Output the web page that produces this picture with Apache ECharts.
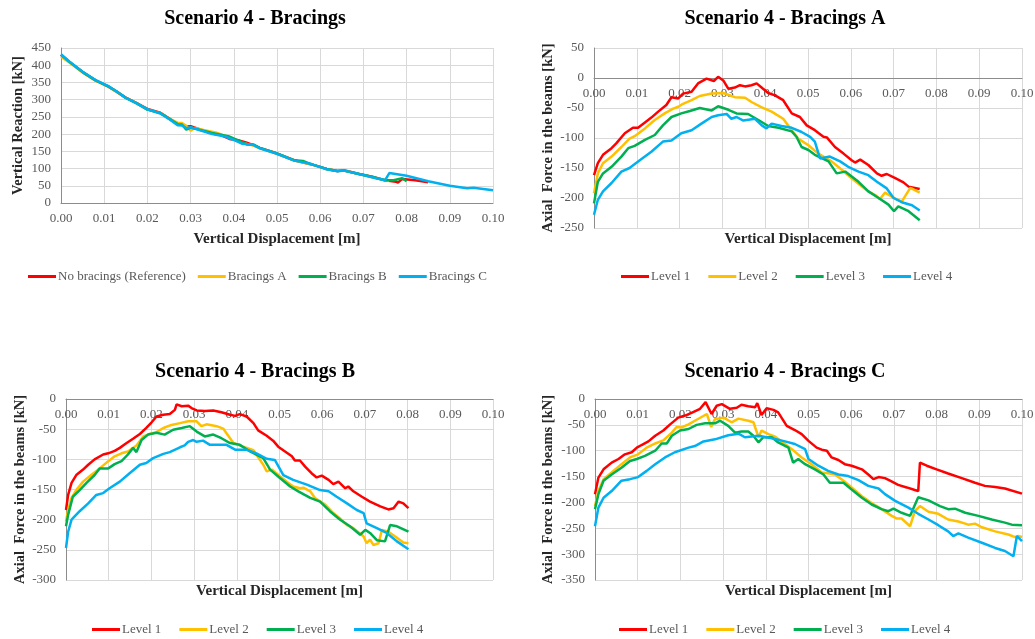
<!DOCTYPE html>
<html>
<head>
<meta charset="utf-8">
<script src="https://cdn.jsdelivr.net/npm/echarts@6/dist/echarts.min.js"></script>
<style>
  html, body { margin: 0; padding: 0; background: #fff; overflow: hidden; }
  #chart { width: 1035px; height: 639px; }
</style>
</head>
<body>
<div id="chart"></div>
<script>
// ---- data: [vertical displacement (m), force (kN)] ----
const xTicks = [0, 0.1, 0.01];

// Scenario 4 - Bracings (vertical reaction)
const noBracings = [[0,430],[0.002,409],[0.005,380],[0.008,356],[0.011,338],[0.013,322],[0.015,306],[0.0175,290],[0.02,273],[0.023,262],[0.025,246],[0.027,230],[0.028,228],[0.029,222],[0.030,223],[0.032,214],[0.035,202],[0.037,197],[0.039,186],[0.041,182],[0.043,175],[0.0445,168],[0.046,160],[0.049,148],[0.054,124],[0.058,112],[0.0615,99],[0.064,93],[0.0655,95],[0.069,84],[0.072,76],[0.075,66],[0.0775,62],[0.078,59],[0.079,70],[0.082,66],[0.085,60]];
const bracingsA = [[0,425],[0.002,407],[0.005,379],[0.008,355],[0.011,338],[0.013,322],[0.015,305],[0.0175,289],[0.02,271],[0.023,261],[0.025,245],[0.027,233],[0.028,232],[0.029,224],[0.030,210],[0.031,218],[0.033,212],[0.036,204],[0.038,195],[0.040,184],[0.042,174],[0.0445,167],[0.046,159],[0.050,143],[0.054,123],[0.058,112],[0.0615,98],[0.064,93],[0.0655,94],[0.069,84],[0.072,75],[0.076,64]];
const bracingsB = [[0,430],[0.002,409],[0.005,380],[0.008,356],[0.011,338],[0.013,323],[0.015,305],[0.0175,290],[0.02,271],[0.023,261],[0.025,245],[0.027,229],[0.028,228],[0.029,213],[0.030,219],[0.032,213],[0.035,203],[0.037,198],[0.039,193],[0.041,182],[0.043,170],[0.0445,170],[0.046,160],[0.050,144],[0.054,124],[0.056,122],[0.058,112],[0.0615,99],[0.064,93],[0.0655,94],[0.069,84],[0.072,76],[0.075,66],[0.077,66],[0.079,72],[0.080,63]];
const bracingsC = [[0,432],[0.002,410],[0.005,381],[0.008,357],[0.011,339],[0.013,323],[0.015,305],[0.0175,289],[0.02,272],[0.023,260],[0.025,244],[0.027,226],[0.028,225],[0.029,217],[0.030,220],[0.032,212],[0.035,200],[0.038,193],[0.040,183],[0.042,172],[0.0445,169],[0.046,159],[0.050,143],[0.054,123],[0.058,113],[0.0615,98],[0.064,92],[0.0655,94],[0.069,84],[0.072,75],[0.075,66],[0.076,87],[0.080,79],[0.085,63],[0.090,50],[0.094,43],[0.0955,44],[0.1,37]];

// Scenario 4 - Bracings A (axial force)
const aLevel1 = [[0,-162],[0.0009,-142],[0.0021,-128],[0.0041,-117],[0.0052,-109],[0.0072,-92],[0.0091,-83],[0.0103,-83],[0.0119,-74],[0.0134,-66],[0.015,-56],[0.0169,-45],[0.0181,-32],[0.0197,-34],[0.0208,-26],[0.0228,-23],[0.0243,-9],[0.0263,-1],[0.028,-5],[0.029,2],[0.0302,-4],[0.0314,-18],[0.0329,-16],[0.0341,-12],[0.0353,-14],[0.0368,-12],[0.038,-9],[0.0395,-18],[0.0407,-25],[0.0423,-29],[0.0442,-37],[0.0462,-59],[0.0481,-65],[0.0497,-79],[0.0516,-87],[0.0536,-98],[0.0544,-99],[0.0563,-115],[0.0583,-126],[0.0602,-137],[0.061,-141],[0.0622,-136],[0.0641,-145],[0.0661,-159],[0.0672,-163],[0.0684,-160],[0.0704,-167],[0.0723,-174],[0.0735,-181],[0.0761,-185]];
const aLevel2 = [[0,-192],[0.0009,-159],[0.0021,-142],[0.0041,-131],[0.0064,-115],[0.0083,-101],[0.0095,-97],[0.0119,-84],[0.0142,-70],[0.0165,-59],[0.0185,-51],[0.0197,-48],[0.0208,-43],[0.0228,-37],[0.0247,-30],[0.0275,-26],[0.0302,-25],[0.0329,-32],[0.0353,-33],[0.0368,-40],[0.0392,-49],[0.0415,-56],[0.0442,-68],[0.0462,-87],[0.0477,-101],[0.0501,-112],[0.0524,-126],[0.0555,-139],[0.0579,-153],[0.0602,-167],[0.0626,-181],[0.0641,-189],[0.0657,-195],[0.0668,-202],[0.068,-191],[0.0696,-198],[0.0719,-206],[0.0739,-183],[0.0761,-191]];
const aLevel3 = [[0,-209],[0.0009,-173],[0.0021,-159],[0.0041,-148],[0.0064,-131],[0.008,-117],[0.0095,-113],[0.0119,-103],[0.0142,-95],[0.0161,-79],[0.0181,-65],[0.0204,-59],[0.0224,-55],[0.0247,-50],[0.0275,-54],[0.029,-47],[0.0314,-53],[0.0333,-59],[0.036,-60],[0.0384,-70],[0.0407,-80],[0.0431,-83],[0.0462,-89],[0.0473,-98],[0.0485,-115],[0.0501,-120],[0.0516,-128],[0.0548,-139],[0.0567,-159],[0.0587,-156],[0.0618,-173],[0.0641,-189],[0.0665,-200],[0.0688,-211],[0.0701,-222],[0.0711,-214],[0.0735,-222],[0.0761,-237]];
const aLevel4 = [[0,-228],[0.0009,-203],[0.0021,-189],[0.0041,-175],[0.0064,-156],[0.0083,-150],[0.0107,-137],[0.0134,-123],[0.0161,-106],[0.0181,-104],[0.0204,-92],[0.0228,-87],[0.0251,-76],[0.0275,-65],[0.029,-62],[0.031,-60],[0.0321,-68],[0.0333,-65],[0.0349,-71],[0.0376,-68],[0.0392,-79],[0.0403,-84],[0.0415,-76],[0.0438,-80],[0.0462,-83],[0.0485,-90],[0.0505,-98],[0.0516,-106],[0.0528,-134],[0.0551,-131],[0.0575,-139],[0.0594,-148],[0.0618,-156],[0.0641,-162],[0.0661,-173],[0.0684,-184],[0.07,-200],[0.0719,-207],[0.0743,-212],[0.0761,-221]];

// Scenario 4 - Bracings B
const bLevel1 = [[0,-184],[0.0005,-159],[0.0013,-139],[0.0024,-126],[0.004,-117],[0.0052,-109],[0.0067,-100],[0.0087,-92],[0.0099,-90],[0.0114,-86],[0.0126,-81],[0.0142,-73],[0.0157,-66],[0.0173,-58],[0.0188,-48],[0.02,-39],[0.0212,-29],[0.0228,-26],[0.0243,-25],[0.0255,-18],[0.0259,-9],[0.0271,-12],[0.0286,-11],[0.0294,-15],[0.0306,-19],[0.0325,-20],[0.0345,-19],[0.0364,-22],[0.0384,-26],[0.0396,-28],[0.0407,-25],[0.0423,-29],[0.0439,-40],[0.045,-52],[0.047,-61],[0.0485,-69],[0.0497,-79],[0.0513,-87],[0.0529,-95],[0.0536,-102],[0.0548,-102],[0.056,-112],[0.0575,-123],[0.0587,-130],[0.0599,-127],[0.0615,-134],[0.0626,-141],[0.0638,-137],[0.0654,-148],[0.0661,-145],[0.0673,-153],[0.0693,-162],[0.0712,-170],[0.0736,-178],[0.0755,-183],[0.0767,-181],[0.0779,-170],[0.079,-173],[0.0802,-181]];
const bLevel2 = [[0,-203],[0.0005,-184],[0.0013,-164],[0.0024,-151],[0.004,-137],[0.0059,-126],[0.0079,-115],[0.0099,-103],[0.0114,-95],[0.013,-90],[0.0145,-87],[0.0165,-77],[0.0181,-62],[0.0196,-58],[0.0212,-55],[0.0228,-48],[0.0247,-43],[0.0267,-40],[0.0286,-37],[0.0306,-37],[0.0317,-45],[0.0329,-42],[0.0353,-45],[0.0368,-49],[0.0392,-73],[0.0415,-79],[0.0439,-85],[0.0462,-109],[0.047,-120],[0.0482,-117],[0.0501,-128],[0.0517,-137],[0.0532,-145],[0.0548,-148],[0.0556,-147],[0.0572,-153],[0.0583,-164],[0.0607,-175],[0.0626,-189],[0.0642,-198],[0.0658,-209],[0.0673,-214],[0.0697,-228],[0.0704,-239],[0.0712,-233],[0.072,-242],[0.0732,-239],[0.074,-217],[0.0755,-220],[0.0775,-230],[0.079,-238],[0.0802,-239]];
const bLevel3 = [[0,-211],[0.0005,-192],[0.0016,-162],[0.0032,-151],[0.0048,-139],[0.0067,-126],[0.0079,-115],[0.0099,-115],[0.0114,-108],[0.013,-103],[0.0145,-92],[0.0157,-81],[0.0165,-88],[0.0177,-68],[0.0192,-59],[0.0212,-56],[0.0231,-59],[0.0251,-51],[0.0271,-48],[0.029,-45],[0.0306,-54],[0.0325,-62],[0.0345,-59],[0.0364,-65],[0.0384,-73],[0.0407,-76],[0.0431,-87],[0.0462,-98],[0.0478,-117],[0.0501,-131],[0.0525,-145],[0.0544,-153],[0.0572,-164],[0.0595,-170],[0.0618,-186],[0.0642,-200],[0.0665,-211],[0.0689,-225],[0.0701,-217],[0.0712,-222],[0.0728,-234],[0.0747,-236],[0.0759,-209],[0.0775,-211],[0.0802,-220]];
const bLevel4 = [[0,-247],[0.0005,-220],[0.0013,-200],[0.0032,-186],[0.0052,-173],[0.0071,-159],[0.0087,-156],[0.0102,-148],[0.0126,-137],[0.0149,-123],[0.0173,-109],[0.0188,-106],[0.0204,-98],[0.0228,-91],[0.0243,-88],[0.0267,-80],[0.0278,-77],[0.0286,-71],[0.0298,-68],[0.0306,-71],[0.0321,-69],[0.0337,-76],[0.0376,-76],[0.0396,-84],[0.0423,-84],[0.0446,-90],[0.047,-99],[0.0489,-101],[0.0509,-126],[0.0532,-134],[0.0564,-142],[0.0595,-151],[0.0615,-153],[0.0634,-162],[0.0658,-173],[0.0681,-184],[0.0697,-189],[0.0704,-206],[0.0728,-214],[0.0751,-222],[0.0775,-236],[0.0802,-249]];

// Scenario 4 - Bracings C
const cLevel1 = [[0,-184],[0.0008,-152],[0.002,-136],[0.0039,-123],[0.0055,-116],[0.007,-107],[0.0086,-103],[0.0098,-94],[0.0109,-89],[0.0125,-82],[0.0141,-71],[0.016,-61],[0.0176,-49],[0.0195,-36],[0.0211,-32],[0.0226,-27],[0.0246,-19],[0.0259,-6],[0.0273,-29],[0.0285,-13],[0.0297,-10],[0.0316,-19],[0.0332,-17],[0.0343,-11],[0.0359,-14],[0.0375,-16],[0.038,-8],[0.039,-31],[0.0402,-18],[0.0418,-21],[0.0429,-26],[0.0449,-52],[0.0468,-60],[0.0484,-68],[0.05,-81],[0.0519,-94],[0.0531,-98],[0.0543,-100],[0.0554,-113],[0.057,-118],[0.0585,-126],[0.0601,-129],[0.0625,-136],[0.064,-146],[0.0652,-155],[0.0664,-151],[0.0679,-153],[0.0691,-158],[0.071,-166],[0.073,-171],[0.0749,-176],[0.0757,-178],[0.0761,-123],[0.0777,-129],[0.08,-136],[0.0827,-144],[0.0859,-153],[0.089,-162],[0.0913,-168],[0.0937,-170],[0.096,-173],[0.1,-183]];
const cLevel2 = [[0,-207],[0.0008,-178],[0.002,-155],[0.0039,-142],[0.0062,-126],[0.0082,-113],[0.0101,-107],[0.0121,-94],[0.0141,-86],[0.016,-80],[0.018,-65],[0.0191,-54],[0.0203,-55],[0.0219,-49],[0.0234,-42],[0.0262,-29],[0.0272,-54],[0.0281,-39],[0.0301,-36],[0.032,-45],[0.0336,-38],[0.0359,-42],[0.0371,-45],[0.0383,-74],[0.039,-61],[0.0406,-68],[0.0422,-73],[0.0445,-87],[0.0461,-97],[0.0484,-113],[0.0507,-126],[0.0531,-142],[0.055,-144],[0.0562,-146],[0.0582,-158],[0.0601,-171],[0.0625,-188],[0.0648,-201],[0.0671,-213],[0.0695,-226],[0.0706,-231],[0.0718,-231],[0.0738,-246],[0.0749,-217],[0.0761,-207],[0.0781,-218],[0.0804,-222],[0.0827,-233],[0.0851,-237],[0.0867,-241],[0.0874,-243],[0.089,-241],[0.0906,-248],[0.0937,-256],[0.0968,-262],[0.0984,-267],[0.0991,-265],[0.1,-267]];
const cLevel3 = [[0,-213],[0.0008,-184],[0.002,-158],[0.0039,-146],[0.0062,-133],[0.0082,-120],[0.0098,-116],[0.0117,-110],[0.0141,-100],[0.0156,-86],[0.0168,-86],[0.018,-71],[0.0199,-61],[0.0219,-58],[0.0238,-50],[0.0258,-47],[0.0281,-47],[0.0293,-42],[0.0312,-52],[0.0328,-65],[0.0343,-63],[0.0359,-63],[0.0371,-71],[0.0383,-84],[0.0394,-74],[0.0414,-74],[0.0429,-84],[0.0453,-94],[0.0464,-123],[0.0476,-116],[0.0492,-126],[0.0515,-136],[0.0535,-146],[0.055,-162],[0.0566,-162],[0.0582,-162],[0.0601,-175],[0.0625,-191],[0.0648,-204],[0.0671,-213],[0.0687,-217],[0.0699,-212],[0.0718,-220],[0.0738,-226],[0.0757,-190],[0.0781,-196],[0.0808,-207],[0.0827,-213],[0.0843,-212],[0.0867,-220],[0.0898,-226],[0.0929,-233],[0.096,-239],[0.0976,-243],[0.1,-244]];
const cLevel4 = [[0,-246],[0.0008,-210],[0.002,-191],[0.0039,-178],[0.0062,-158],[0.0082,-155],[0.0101,-151],[0.0121,-139],[0.0141,-126],[0.0164,-113],[0.0187,-103],[0.0219,-94],[0.0234,-91],[0.0254,-82],[0.0281,-78],[0.0312,-70],[0.0336,-67],[0.0351,-74],[0.0383,-71],[0.0414,-76],[0.0445,-82],[0.0468,-87],[0.0492,-97],[0.05,-116],[0.0523,-129],[0.0546,-139],[0.057,-146],[0.0593,-149],[0.0617,-157],[0.064,-168],[0.0664,-173],[0.0679,-184],[0.0703,-197],[0.0734,-210],[0.0757,-222],[0.0781,-233],[0.0804,-244],[0.0827,-256],[0.0839,-265],[0.0851,-260],[0.0874,-268],[0.0906,-278],[0.0937,-288],[0.096,-294],[0.098,-304],[0.0988,-265],[0.1,-275]];

const titles = ['Scenario 4 - Bracings', 'Scenario 4 - Bracings A', 'Scenario 4 - Bracings B', 'Scenario 4 - Bracings C'];
const reactionNames = ['No bracings (Reference)', 'Bracings A', 'Bracings B', 'Bracings C'];
const levelNames = ['Level 1', 'Level 2', 'Level 3', 'Level 4'];
const yRanges = [[0, 450], [-250, 50], [-300, 0], [-350, 0]];
const colors = ['#FF0000', '#FFC000', '#00B050', '#00B0F0'];

const FONT = "'Liberation Serif', 'Times New Roman', serif";
const X_TITLE = 'Vertical Displacement [m]';

// panel layout (pixels)
const grids = [
    { left: 61, top: 48, width: 432, height: 155 },
    { left: 594, top: 48, width: 428, height: 180 },
    { left: 66, top: 399, width: 427, height: 181 },
    { left: 595, top: 399, width: 427, height: 181 }
].map(g => Object.assign(g, { containLabel: false, outerBoundsMode: 'none' }));
const titlePos = [[255, 9], [785, 9], [255, 362], [785, 362]];
const legendPos = [[28, 270], [621, 270], [92, 623], [619, 623]];
const yNameGap = [35, 38, 38, 39];
const yTitle = ['Vertical Reaction [kN]', 'Axial  Force in the beams [kN]', 'Axial  Force in the beams [kN]', 'Axial  Force in the beams [kN]'];

const panelData = [
    [noBracings, bracingsA, bracingsB, bracingsC],
    [aLevel1, aLevel2, aLevel3, aLevel4],
    [bLevel1, bLevel2, bLevel3, bLevel4],
    [cLevel1, cLevel2, cLevel3, cLevel4]
];

const axisColor = '#8c8c8c';
const gridColor = '#d9d9d9';
const nameStyle = { fontFamily: FONT, fontSize: 15, fontWeight: 'bold', color: '#262626' };

// distance from the top edge down to y = 0 (panels 1-3 draw their x axis on the zero line)
const zeroOffset = i => grids[i].height * yRanges[i][1] / (yRanges[i][1] - yRanges[i][0]);

const xAxes = grids.map((g, i) => ({
    type: 'value',
    gridIndex: i,
    min: xTicks[0],
    max: xTicks[1],
    interval: xTicks[2],
    position: i === 0 ? 'bottom' : 'top',
    offset: i === 0 ? 0 : -zeroOffset(i),
    name: i === 0 ? X_TITLE : '',
    nameLocation: 'middle',
    nameGap: 29,
    nameTextStyle: nameStyle,
    axisLine: { show: true, onZero: false, lineStyle: { color: axisColor, width: 1 } },
    axisTick: { show: false },
    axisLabel: { inside: i >= 1, formatter: v => v.toFixed(2), fontFamily: FONT, fontSize: 13, color: '#595959', margin: 9 },
    splitLine: { show: true, lineStyle: { color: gridColor, width: 1 } }
}));

const yAxes = grids.map((g, i) => ({
    type: 'value',
    gridIndex: i,
    min: yRanges[i][0],
    max: yRanges[i][1],
    interval: 50,
    name: yTitle[i],
    nameLocation: 'middle',
    nameGap: yNameGap[i],
    nameTextStyle: { fontFamily: FONT, fontSize: 14.5, fontWeight: 'bold', color: '#262626' },
    axisLine: { show: true, onZero: false, lineStyle: { color: axisColor, width: 1 } },
    axisTick: { show: false },
    axisLabel: { fontFamily: FONT, fontSize: 13, color: '#595959', margin: 10 },
    splitLine: { show: true, lineStyle: { color: gridColor, width: 1 } }
}));

// x-axis titles under panels 1-3 (their tick axes sit on the zero line)
const xTitleGraphics = [1, 2, 3].map(i => ({
    type: 'text',
    x: grids[i].left + grids[i].width / 2,
    y: grids[i].top + grids[i].height + 11,
    style: {
        text: X_TITLE,
        fill: '#262626',
        font: "bold 15px 'Liberation Serif', 'Times New Roman', serif",
        align: 'center',
        verticalAlign: 'middle'
    }
}));

const series = [];
panelData.forEach((lines, i) => {
    const names = i === 0 ? reactionNames : levelNames;
    lines.forEach((data, k) => {
        series.push({
            type: 'line',
            name: names[k],
            xAxisIndex: i,
            yAxisIndex: i,
            data: data,
            showSymbol: false,
            symbol: 'none',
            animation: false,
            itemStyle: { color: colors[k] },
            lineStyle: { color: colors[k], width: 2.5 }
        });
    });
});

const option = {
    animation: false,
    backgroundColor: '#fff',
    title: titles.map((t, i) => ({
        text: t,
        left: titlePos[i][0],
        top: titlePos[i][1],
        textAlign: 'center',
        padding: 0,
        textStyle: { fontFamily: FONT, fontSize: 20, fontWeight: 'bold', color: '#000' }
    })),
    legend: legendPos.map((p, i) => ({
        data: i === 0 ? reactionNames : levelNames,
        left: p[0],
        top: p[1],
        padding: 0,
        icon: 'rect',
        itemWidth: 28,
        itemHeight: 3,
        itemGap: i === 0 ? 12 : 18,
        textStyle: { fontFamily: FONT, fontSize: 13, color: '#595959', padding: [0, 0, 0, -3] }
    })),
    grid: grids,
    xAxis: xAxes,
    yAxis: yAxes,
    graphic: xTitleGraphics,
    series: series
};

const chart = echarts.init(document.getElementById('chart'), null, { renderer: 'canvas' });
chart.setOption(option);
</script>
</body>
</html>
